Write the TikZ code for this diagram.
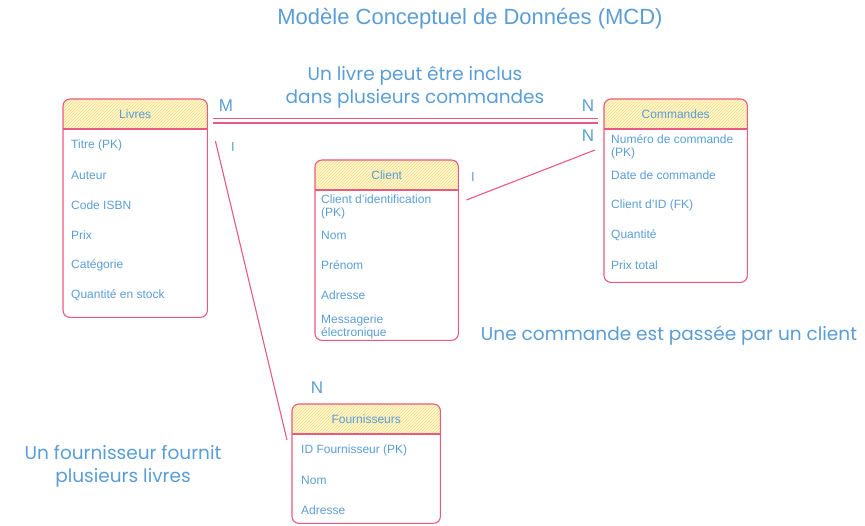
\documentclass[tikz,border=0pt]{standalone}
\usepackage{fontspec}
\setmainfont{Liberation Sans}
\newfontfamily\manuscrite{Poppins}
\usetikzlibrary{calc,patterns}
\definecolor{bleutexte}{RGB}{90,157,214}
\definecolor{rosebord}{RGB}{233,89,128}
\definecolor{jaunefond}{RGB}{255,247,214}
\definecolor{jaunehachure}{RGB}{246,220,120}

\tikzset{
  entite/.style={anchor=north west, inner sep=0pt},
  bord/.style={draw=rosebord, line width=1.1pt, rounded corners=7pt},
  attr/.style={anchor=west, text=bleutexte, font=\fontsize{12}{13.5}\selectfont, align=left, inner sep=0pt},
  titretab/.style={text=bleutexte, font=\fontsize{12}{14}\selectfont},
  lien/.style={draw=rosebord, line width=1.1pt},
  card/.style={text=bleutexte, font=\fontsize{17}{17}\selectfont},
  cardi/.style={text=bleutexte, font=\fontsize{13}{13}\selectfont},
  note/.style={text=bleutexte, font=\manuscrite\fontsize{18.5}{23}\selectfont, align=center},
}

% en-tete hachure d'une entite
\newcommand{\entete}[2]{%
  \begin{scope}
    \clip[rounded corners=7pt] (#1.north west) rectangle (#1.south east);
    \fill[jaunefond] (#1.north west) rectangle ($(#1.north east)+(0,30)$);
    \fill[pattern=north east lines, pattern color=jaunehachure] (#1.north west) rectangle ($(#1.north east)+(0,30)$);
  \end{scope}
  \draw[bord] (#1.north west) rectangle (#1.south east);
  \draw[lien] ($(#1.north west)+(0,30)$) -- ($(#1.north east)+(0,30)$);
  \node[titretab] (#1-titre) at ($(#1.north)+(0,15)$) {#2};
}

\begin{document}
\begin{tikzpicture}[x=1pt,y=-1pt]
\useasboundingbox (0,0) rectangle (865,526);
\node[text=bleutexte, font=\fontsize{22}{24}\selectfont] (titre) at (470,19) {Modèle Conceptuel de Données (MCD)};

% entites
\node[entite, minimum width=144pt, minimum height=218pt] (livres) at (63,99) {};
\node[entite, minimum width=143pt, minimum height=183pt] (commandes) at (604,99) {};
\node[entite, minimum width=143pt, minimum height=180pt] (client) at (315,160) {};
\node[entite, minimum width=148pt, minimum height=119pt] (fournisseurs) at (292,404) {};
\entete{livres}{Livres}
\entete{commandes}{Commandes}
\entete{client}{Client}
\entete{fournisseurs}{Fournisseurs}

\foreach \y/\t [count=\i] in {145/Titre (PK), 175/Auteur, 205/Code ISBN, 235/Prix, 265/Catégorie, 295/Quantité en stock}
  \node[attr] (livres-a\i) at (71,\y) {\t};
\foreach \y/\t [count=\i] in {147/{Numéro de commande\\(PK)}, 175/Date de commande, 205/Client d’ID (FK), 235/Quantité, 265/Prix total}
  \node[attr] (commandes-a\i) at (611,\y) {\t};
\foreach \y/\t [count=\i] in {207/{Client d’identification\\(PK)}, 235/Nom, 265/Prénom, 295/Adresse, 327/{Messagerie\\électronique}}
  \node[attr] (client-a\i) at (321,\y) {\t};
\foreach \y/\t [count=\i] in {450/ID Fournisseur (PK), 480/Nom, 510/Adresse}
  \node[attr] (fournisseurs-a\i) at (301,\y) {\t};

% associations
\draw[lien, double=white, double distance=3pt] ($(livres.north east)+(6,22)$) -- ($(commandes.north west)+(-6,22)$);
\draw[lien] ($(client.north east)+(8,40)$) -- ($(commandes.north west)+(-9,51)$);
\draw[lien] ($(livres.north east)+(8,42)$) -- ($(fournisseurs.north west)+(-5,36)$);

\node[card] (m1) at (226,106) {M};
\node[card] (n1) at (588,106) {N};
\node[card] (n2) at (588,136) {N};
\node[cardi] (i1) at (233,147) {I};
\node[cardi] (i2) at (473,177) {I};
\node[card] (n3) at (317,388) {N};

% notes
\node[note] (note-livre) at (415,87) {Un livre peut être inclus\\dans plusieurs commandes};
\node[note] (note-commande) at (669,336) {Une commande est passée par un client};
\node[note] (note-fournisseur) at (123,466) {Un fournisseur fournit\\plusieurs livres};
\end{tikzpicture}
\end{document}
